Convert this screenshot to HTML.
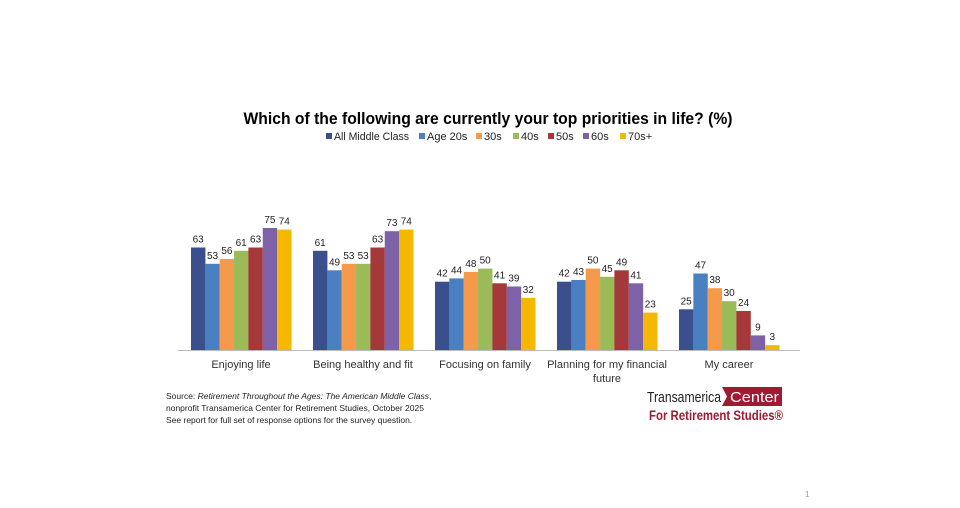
<!DOCTYPE html>
<html><head><style>body{margin:0;background:#fff}</style></head><body>
<svg width="960" height="503" xmlns="http://www.w3.org/2000/svg" font-family="Liberation Sans, sans-serif">
<text x="488" y="124" text-anchor="middle" font-size="17" font-weight="bold" fill="#000" textLength="489" lengthAdjust="spacingAndGlyphs">Which of the following are currently your top priorities in life? (%)</text>
<g font-size="11" fill="#222">
<rect x="326" y="133" width="6" height="6" fill="#3b4f8c"/><text x="334" y="140" textLength="75" lengthAdjust="spacingAndGlyphs">All Middle Class</text>
<rect x="419" y="133" width="6" height="6" fill="#4a7fc1"/><text x="427" y="140">Age 20s</text>
<rect x="476" y="133" width="6" height="6" fill="#f59a4a"/><text x="484" y="140">30s</text>
<rect x="513" y="133" width="6" height="6" fill="#9bbb59"/><text x="521" y="140">40s</text>
<rect x="548" y="133" width="6" height="6" fill="#a5383a"/><text x="556" y="140">50s</text>
<rect x="583" y="133" width="6" height="6" fill="#7e62a8"/><text x="591" y="140">60s</text>
<rect x="620" y="133" width="6" height="6" fill="#f5b800"/><text x="628" y="140">70s+</text>
</g>
<g font-size="10" text-anchor="middle" fill="#222">
<g transform="translate(191,0)">
<rect x="0" y="247.5" width="14.4" height="102.5" fill="#3b4f8c"/><text x="7.2" y="242.5">63</text>
<rect x="14.35" y="263.8" width="14.4" height="86.2" fill="#4a7fc1"/><text x="21.5" y="258.8">53</text>
<rect x="28.7" y="258.9" width="14.4" height="91.1" fill="#f59a4a"/><text x="35.9" y="253.9">56</text>
<rect x="43.05" y="250.8" width="14.4" height="99.2" fill="#9bbb59"/><text x="50.2" y="245.8">61</text>
<rect x="57.4" y="247.5" width="14.4" height="102.5" fill="#a5383a"/><text x="64.6" y="242.5">63</text>
<rect x="71.75" y="228" width="14.4" height="122" fill="#7e62a8"/><text x="78.9" y="223">75</text>
<rect x="86.1" y="229.6" width="14.4" height="120.4" fill="#f5b800"/><text x="93.3" y="224.6">74</text>
</g>
<g transform="translate(313,0)">
<rect x="0" y="250.8" width="14.4" height="99.2" fill="#3b4f8c"/><text x="7.2" y="245.8">61</text>
<rect x="14.35" y="270.3" width="14.4" height="79.7" fill="#4a7fc1"/><text x="21.5" y="265.3">49</text>
<rect x="28.7" y="263.8" width="14.4" height="86.2" fill="#f59a4a"/><text x="35.9" y="258.8">53</text>
<rect x="43.05" y="263.8" width="14.4" height="86.2" fill="#9bbb59"/><text x="50.2" y="258.8">53</text>
<rect x="57.4" y="247.5" width="14.4" height="102.5" fill="#a5383a"/><text x="64.6" y="242.5">63</text>
<rect x="71.75" y="231.2" width="14.4" height="118.8" fill="#7e62a8"/><text x="78.9" y="226.2">73</text>
<rect x="86.1" y="229.6" width="14.4" height="120.4" fill="#f5b800"/><text x="93.3" y="224.6">74</text>
</g>
<g transform="translate(435,0)">
<rect x="0" y="281.7" width="14.4" height="68.3" fill="#3b4f8c"/><text x="7.2" y="276.7">42</text>
<rect x="14.35" y="278.4" width="14.4" height="71.6" fill="#4a7fc1"/><text x="21.5" y="273.4">44</text>
<rect x="28.7" y="271.9" width="14.4" height="78.1" fill="#f59a4a"/><text x="35.9" y="266.9">48</text>
<rect x="43.05" y="268.6" width="14.4" height="81.4" fill="#9bbb59"/><text x="50.2" y="263.6">50</text>
<rect x="57.4" y="283.3" width="14.4" height="66.7" fill="#a5383a"/><text x="64.6" y="278.3">41</text>
<rect x="71.75" y="286.5" width="14.4" height="63.5" fill="#7e62a8"/><text x="78.9" y="281.5">39</text>
<rect x="86.1" y="297.9" width="14.4" height="52.1" fill="#f5b800"/><text x="93.3" y="292.9">32</text>
</g>
<g transform="translate(557,0)">
<rect x="0" y="281.7" width="14.4" height="68.3" fill="#3b4f8c"/><text x="7.2" y="276.7">42</text>
<rect x="14.35" y="280" width="14.4" height="70" fill="#4a7fc1"/><text x="21.5" y="275">43</text>
<rect x="28.7" y="268.6" width="14.4" height="81.4" fill="#f59a4a"/><text x="35.9" y="263.6">50</text>
<rect x="43.05" y="276.8" width="14.4" height="73.2" fill="#9bbb59"/><text x="50.2" y="271.8">45</text>
<rect x="57.4" y="270.3" width="14.4" height="79.7" fill="#a5383a"/><text x="64.6" y="265.3">49</text>
<rect x="71.75" y="283.3" width="14.4" height="66.7" fill="#7e62a8"/><text x="78.9" y="278.3">41</text>
<rect x="86.1" y="312.6" width="14.4" height="37.4" fill="#f5b800"/><text x="93.3" y="307.6">23</text>
</g>
<g transform="translate(679,0)">
<rect x="0" y="309.3" width="14.4" height="40.7" fill="#3b4f8c"/><text x="7.2" y="304.3">25</text>
<rect x="14.35" y="273.5" width="14.4" height="76.5" fill="#4a7fc1"/><text x="21.5" y="268.5">47</text>
<rect x="28.7" y="288.2" width="14.4" height="61.8" fill="#f59a4a"/><text x="35.9" y="283.2">38</text>
<rect x="43.05" y="301.2" width="14.4" height="48.8" fill="#9bbb59"/><text x="50.2" y="296.2">30</text>
<rect x="57.4" y="311" width="14.4" height="39" fill="#a5383a"/><text x="64.6" y="306">24</text>
<rect x="71.75" y="335.4" width="14.4" height="14.6" fill="#7e62a8"/><text x="78.9" y="330.4">9</text>
<rect x="86.1" y="345.1" width="14.4" height="4.9" fill="#f5b800"/><text x="93.3" y="340.1">3</text>
</g>
</g>
<line x1="178" y1="350.5" x2="800" y2="350.5" stroke="#bbb" stroke-width="1"/>
<g font-size="11" fill="#333" text-anchor="middle">
<text x="241" y="368">Enjoying life</text>
<text x="363" y="368">Being healthy and fit</text>
<text x="485" y="368">Focusing on family</text>
<text x="607" y="368">Planning for my financial</text>
<text x="607" y="382">future</text>
<text x="729" y="368">My career</text>
</g>
<g font-size="8.5" fill="#222">
<text x="166" y="399">Source: <tspan font-style="italic">Retirement Throughout the Ages: The American Middle Class</tspan>,</text>
<text x="166" y="411">nonprofit Transamerica Center for Retirement Studies, October 2025</text>
<text x="166" y="423">See report for full set of response options for the survey question.</text>
</g>
<text x="647" y="402" font-size="14.5" fill="#222" textLength="74" lengthAdjust="spacingAndGlyphs">Transamerica</text>
<polygon points="722,387 782,387 782,406 722,406 727,396.5" fill="#9e1b32"/>
<text x="730" y="402" font-size="14.5" fill="#fff" textLength="49" lengthAdjust="spacingAndGlyphs">Center</text>
<text x="649" y="420" font-size="13.5" font-weight="bold" fill="#9e1b32" textLength="134" lengthAdjust="spacingAndGlyphs">For Retirement Studies®</text>
<text x="805" y="497" font-size="8" fill="#999">1</text>
</svg>
</body></html>
